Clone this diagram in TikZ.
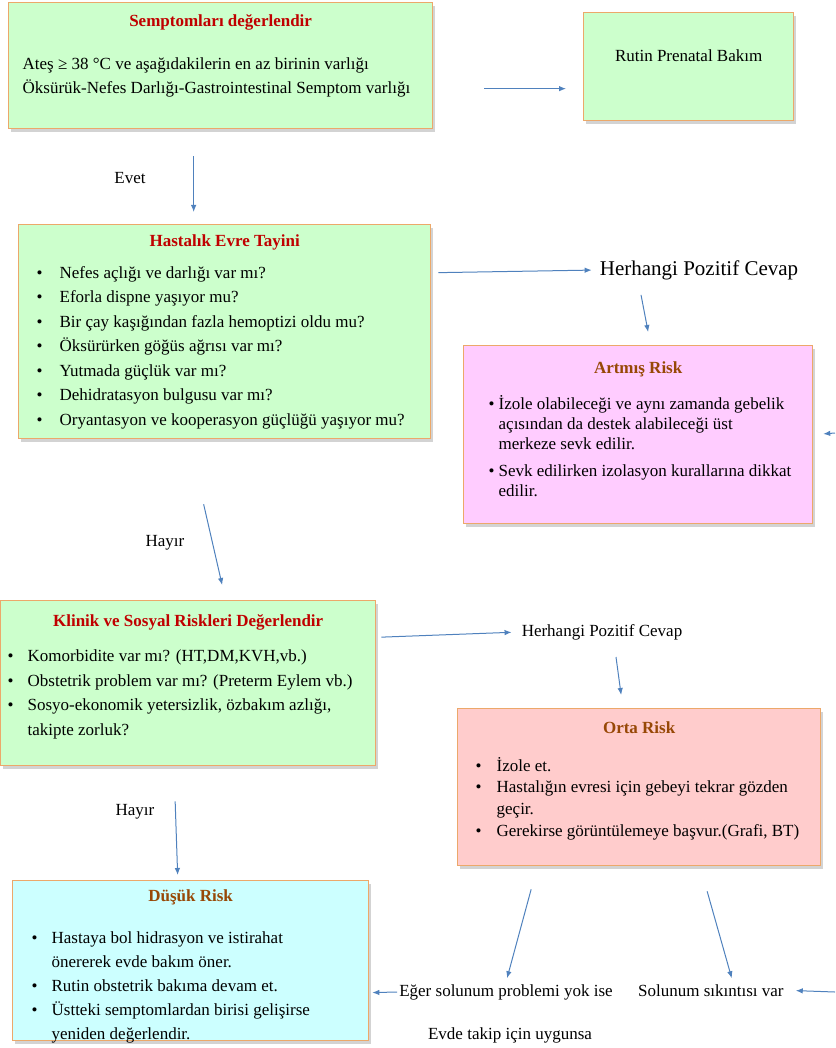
\documentclass[tikz,border=0pt]{standalone}
\usepackage{fontspec}
\setmainfont{Liberation Serif}
\usetikzlibrary{arrows.meta, positioning, shadows}

\definecolor{symgreen}{RGB}{204,255,204}
\definecolor{riskpink}{RGB}{255,204,255}
\definecolor{risksalmon}{RGB}{255,204,204}
\definecolor{riskcyan}{RGB}{204,255,255}
\definecolor{boxedge}{RGB}{236,168,106}
\definecolor{titlered}{RGB}{192,0,0}
\definecolor{titlebrown}{RGB}{151,72,6}
\definecolor{arrowblue}{RGB}{79,129,189}

% centred box title, bullet line with hanging indent
\newcommand{\boxhead}[2]{{\centering\textcolor{#1}{\bfseries #2}\par}}
\newcommand{\bul}[1]{\par\hangindent=#1\hangafter=1\noindent\makebox[#1][l]{\textbullet}}

\begin{document}
\begin{tikzpicture}[
    x=1pt, y=-1pt,
    >={Latex[length=7pt,width=5.5pt]},
    font=\fontsize{17}{24.5}\selectfont,
    % Style definitions
    greenbox/.style={draw=boxedge, line width=1.3pt, fill=symgreen, anchor=north west, inner sep=0pt,
        drop shadow={opacity=0.35, fill=black!50, shadow xshift=2pt, shadow yshift=-3pt}},
    pinkbox/.style={greenbox, fill=riskpink},
    salmonbox/.style={greenbox, fill=risksalmon},
    cyanbox/.style={greenbox, fill=riskcyan},
    answer/.style={inner sep=2pt},
    arrow/.style={->, line width=1pt, arrowblue},
]
\useasboundingbox (0,0) rectangle (835,1048);

%% ---------- SYMPTOM CHECK ----------
\node[greenbox] (symptoms) at (8,2) {\parbox[c][126pt][t]{424pt}{\vspace*{12pt}
    \boxhead{titlered}{Semptomları değerlendir}\vspace{18pt}
    \leftskip=14pt Ateş ≥ 38 °C ve aşağıdakilerin en az birinin varlığı\\
    Öksürük-Nefes Darlığı-Gastrointestinal Semptom varlığı\par}};
\node[greenbox] (routine_care) at (583,12) {\parbox[c][108pt][t]{210pt}{\vspace*{37pt}
    \centering Rutin Prenatal Bakım\par}};

%% ---------- DISEASE STAGE ----------
\node[answer] (yes_label) at (130,178) {Evet};
\node[greenbox] (stage) at (18,224) {\parbox[c][214pt][t]{412pt}{\vspace*{10pt}
    \boxhead{titlered}{Hastalık Evre Tayini}\vspace{7.5pt}
    \leftskip=18pt
    \bul{23pt}Nefes açlığı ve darlığı var mı?
    \bul{23pt}Eforla dispne yaşıyor mu?
    \bul{23pt}Bir çay kaşığından fazla hemoptizi oldu mu?
    \bul{23pt}Öksürürken göğüs ağrısı var mı?
    \bul{23pt}Yutmada güçlük var mı?
    \bul{23pt}Dehidratasyon bulgusu var mı?
    \bul{23pt}Oryantasyon ve kooperasyon güçlüğü yaşıyor mu?\par}};

%% ---------- INCREASED RISK ----------
\node[answer, font=\fontsize{21}{25}\selectfont] (positive_1) at (699,270) {Herhangi Pozitif Cevap};
\node[pinkbox] (high_risk) at (463,345) {\parbox[c][178pt][t]{349pt}{\fontsize{17}{20}\selectfont\vspace*{16pt}
    \boxhead{titlebrown}{Artmış Risk}\vspace{16pt}
    \leftskip=25pt
    \bul{10pt}İzole olabileceği ve aynı zamanda gebelik\\ açısından da destek alabileceği üst\\ merkeze sevk edilir.\par
    \vspace{7pt}
    \bul{10pt}Sevk edilirken izolasyon kurallarına dikkat\\ edilir.\par}};

%% ---------- CLINICAL AND SOCIAL RISKS ----------
\node[answer] (no_label_1) at (165,543) {Hayır};
\node[greenbox] (clinical) at (0,600) {\parbox[c][165pt][t]{375pt}{\vspace*{14pt}
    \boxhead{titlered}{Klinik ve Sosyal Riskleri Değerlendir}\vspace{10.5pt}
    \leftskip=7pt
    \bul{20pt}Komorbidite var mı? (HT,DM,KVH,vb.)
    \bul{20pt}Obstetrik problem var mı? (Preterm Eylem vb.)
    \bul{20pt}Sosyo-ekonomik yetersizlik, özbakım azlığı,\\ takipte zorluk?\par}};

%% ---------- MEDIUM RISK ----------
\node[answer] (positive_2) at (602,632) {Herhangi Pozitif Cevap};
\node[salmonbox] (medium_risk) at (457,708) {\parbox[c][157pt][t]{363pt}{\fontsize{17}{21.7}\selectfont\vspace*{13pt}
    \boxhead{titlebrown}{Orta Risk}\vspace{16pt}
    \leftskip=18pt
    \bul{21pt}İzole et.
    \bul{21pt}Hastalığın evresi için gebeyi tekrar gözden\\ geçir.
    \bul{21pt}Gerekirse görüntülemeye başvur.(Grafi, BT)\par}};

%% ---------- LOW RISK ----------
\node[answer] (no_label_2) at (135,812) {Hayır};
\node[cyanbox] (low_risk) at (12,880) {\parbox[c][160pt][t]{356pt}{\fontsize{17}{24}\selectfont\vspace*{9pt}
    \boxhead{titlebrown}{Düşük Risk}\vspace{18pt}
    \leftskip=19pt
    \bul{20pt}Hastaya bol hidrasyon ve istirahat\\ önererek evde bakım öner.
    \bul{20pt}Rutin obstetrik bakıma devam et.
    \bul{20pt}Üstteki semptomlardan birisi gelişirse\\ yeniden değerlendir.\par}};

%% ---------- BREATHING OUTCOMES ----------
\node[answer] (no_breath_problem) at (506,992) {Eğer solunum problemi yok ise};
\node[answer, right=21pt of no_breath_problem.base east, anchor=base west] (breath_distress) {Solunum sıkıntısı var};
\node[answer] (home_followup) at (510,1035) {Evde takip için uygunsa};
\coordinate (edge_high) at (835,433);
\coordinate (edge_low) at (835,992);

%% ========== ARROWS ==========

% Symptoms
\draw[arrow] ([xshift=51pt,yshift=-23pt]symptoms.east) -- ([xshift=-17pt,yshift=-22pt]routine_care.west);
\draw[arrow] ([xshift=-27pt,yshift=-27pt]symptoms.south) -- ([xshift=-31pt,yshift=12pt]stage.north);

% Stage to increased risk
\draw[arrow, shorten >=6pt] ([xshift=7pt,yshift=59pt]stage.east) -- (positive_1.west);
\draw[arrow] ([xshift=-58pt,yshift=-13pt]positive_1.south) -- ([xshift=10pt,yshift=13pt]high_risk.north);
\draw[arrow, shorten >=10pt] (edge_high) -- (high_risk.east);

% Stage to clinical risks
\draw[arrow] ([xshift=-21pt,yshift=-65pt]stage.south) -- ([xshift=34pt,yshift=15pt]clinical.north);
\draw[arrow, shorten >=8pt] ([xshift=5pt,yshift=46pt]clinical.east) -- (positive_2.west);
\draw[arrow] ([xshift=14pt,yshift=-15pt]positive_2.south) -- ([xshift=-18pt,yshift=13pt]medium_risk.north);
\draw[arrow] ([xshift=-13pt,yshift=-35pt]clinical.south) -- ([xshift=-13pt,yshift=5pt]low_risk.north);

% Medium risk outcomes
\draw[arrow, shorten >=4pt] ([xshift=-108pt,yshift=-23pt]medium_risk.south) -- (no_breath_problem.north);
\draw[arrow, shorten >=4pt] ([xshift=68pt,yshift=-25pt]medium_risk.south) -- ([xshift=22pt]breath_distress.north);
\draw[arrow, shorten >=3pt] (no_breath_problem.west) -- ([yshift=-32pt]low_risk.east);
\draw[arrow, shorten >=10pt] (edge_low) -- (breath_distress.east);

\end{tikzpicture}
\end{document}
